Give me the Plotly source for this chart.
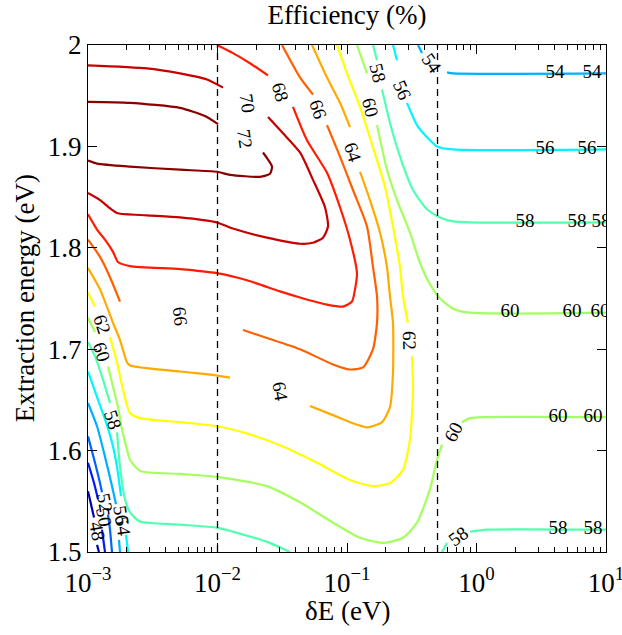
import math
import plotly.graph_objects as go

# ---------------- data (δE in eV, extraction energy in eV) ----------------
levels = [48, 50, 52, 54, 56, 58, 60, 62, 64, 66, 68, 70, 72]

c48_a_dE = [0.001, 0.001113]
c48_a_Ee = [1.560, 1.534]
c48_b_dE = [0.001174, 0.001216]
c48_b_Ee = [1.507, 1.500]

c50_a_dE = [0.001, 0.001113, 0.001195]
c50_a_Ee = [1.588, 1.568, 1.552]
c50_b_dE = [0.001282, 0.001353]
c50_b_Ee = [1.522, 1.500]

c52_a_dE = [0.001, 0.001133, 0.001238, 0.001282]
c52_a_Ee = [1.614, 1.588, 1.568, 1.559]
c52_b_dE = [0.001427, 0.001479, 0.001532]
c52_b_Ee = [1.537, 1.522, 1.500]

c54_a_dE = [0.001, 0.001174, 0.001353, 0.001532, 0.001645]
c54_a_Ee = [1.647, 1.624, 1.594, 1.565, 1.547]
c54_b_dE = [0.001735, 0.001767]
c54_b_Ee = [1.512, 1.500]
c54_c_dE = [0.3534, 0.3794]
c54_c_Ee = [2.000, 1.992]
c54_d_dE = [0.5918, 0.6585, 10.0]
c54_d_Ee = [1.973, 1.972, 1.972]

c56_a_dE = [0.001, 0.001195, 0.001353, 0.001532, 0.001675, 0.001799]
c56_a_Ee = [1.678, 1.650, 1.631, 1.608, 1.584, 1.555]
c56_b_dE = [0.001966, 0.002037]
c56_b_Ee = [1.517, 1.500]
c56_c_dE = [0.2265, 0.2432]
c56_c_Ee = [2.000, 1.985]
c56_d_dE = [0.2905, 0.3471, 0.4149, 0.4955, 0.6585, 10.0]
c56_d_Ee = [1.943, 1.921, 1.909, 1.900, 1.897, 1.897]

c58_a_dE = [0.001, 0.001133, 0.001306, 0.001479]
c58_a_Ee = [1.707, 1.693, 1.670, 1.647]
c58_b_dE = [0.001675, 0.001767, 0.001931, 0.002111, 0.002521, 0.00513, 0.00991, 0.01317, 0.02411, 0.03629]
c58_b_Ee = [1.618, 1.584, 1.552, 1.539, 1.530, 1.527, 1.524, 1.520, 1.510, 1.500]
c58_c_dE = [0.1588, 0.1705]
c58_c_Ee = [2.000, 1.985]
c58_d_dE = [0.1864, 0.2148, 0.2566, 0.3234, 0.4149, 0.5225, 0.6585, 0.8908, 10.0]
c58_d_Ee = [1.956, 1.923, 1.890, 1.857, 1.838, 1.830, 1.826, 1.825, 1.825]
c58_e_dE = [0.5416, 0.5918]
c58_e_Ee = [1.500, 1.509]
c58_f_dE = [0.8908, 1.205, 10.0]
c58_f_Ee = [1.520, 1.522, 1.522]

c60_a_dE = [0.001, 0.001133]
c60_a_Ee = [1.731, 1.717]
c60_b_dE = [0.001427, 0.00156, 0.001705, 0.00183, 0.002001, 0.002111, 0.002521, 0.00513, 0.00991,
            0.02411, 0.04336, 0.07795, 0.126, 0.1897, 0.2707, 0.3471, 0.4375, 0.4955, 0.5416]
c60_b_Ee = [1.683, 1.663, 1.643, 1.621, 1.601, 1.591, 1.580, 1.577, 1.574,
            1.565, 1.549, 1.529, 1.514, 1.509, 1.514, 1.529, 1.562, 1.591, 1.606]
c60_c_dE = [0.7727, 0.8908, 1.205, 10.0]
c60_c_Ee = [1.628, 1.632, 1.633, 1.633]
c60_d_dE = [0.1194, 0.1427]
c60_d_Ee = [2.000, 1.972]
c60_e_dE = [0.1705, 0.2036, 0.2432, 0.3066, 0.3661, 0.4375, 0.5225, 0.6585, 0.8908, 10.0]
c60_e_Ee = [1.921, 1.877, 1.847, 1.815, 1.785, 1.764, 1.750, 1.740, 1.736, 1.736]

c62_a_dE = [0.08373, 0.1, 0.126, 0.1588, 0.1966, 0.2265, 0.2566, 0.2707, 0.2958]
c62_a_Ee = [2.000, 1.972, 1.939, 1.899, 1.860, 1.821, 1.781, 1.752, 1.726]
c62_b_dE = [0.3176, 0.3234, 0.3066, 0.2707, 0.2148, 0.1588, 0.1055, 0.05866, 0.03203,
            0.01782, 0.00991, 0.00513, 0.002521, 0.002111, 0.001864, 0.001675, 0.001479]
c62_b_Ee = [1.693, 1.660, 1.611, 1.581, 1.568, 1.565, 1.571, 1.588, 1.604,
            1.616, 1.624, 1.628, 1.632, 1.637, 1.660, 1.687, 1.712]
c62_c_dE = [0.001, 0.001133]
c62_c_Ee = [1.756, 1.742]

c64_a_dE = [0.05367, 0.07008, 0.08829, 0.1055]
c64_a_Ee = [2.000, 1.968, 1.943, 1.919]
c64_b_dE = [0.126, 0.1505, 0.1798, 0.2036, 0.2148, 0.2265, 0.2265, 0.2148, 0.1864, 0.1427, 0.1055, 0.07795, 0.05181]
c64_b_Ee = [1.875, 1.847, 1.815, 1.781, 1.752, 1.726, 1.677, 1.643, 1.628, 1.623, 1.628, 1.635, 1.644]
c64_c_dE = [0.01249, 0.00991, 0.00513, 0.002111, 0.002001, 0.001767, 0.00156, 0.001238, 0.001]
c64_c_Ee = [1.672, 1.674, 1.678, 1.684, 1.687, 1.709, 1.726, 1.759, 1.780]

c66_a_dE = [0.03148, 0.04336, 0.05464]
c66_a_Ee = [2.000, 1.968, 1.951]
c66_b_dE = [0.07008, 0.08829, 0.1112, 0.1427, 0.1588, 0.1705, 0.1705, 0.1588, 0.1329, 0.1055, 0.07795, 0.04336, 0.02411, 0.01574]
c66_b_Ee = [1.921, 1.890, 1.857, 1.821, 1.781, 1.752, 1.726, 1.700, 1.682, 1.680, 1.685, 1.700, 1.711, 1.719]
c66_c_dE = [0.001, 0.001238, 0.001479, 0.001767]
c66_c_Ee = [1.808, 1.791, 1.771, 1.747]

c68_a_dE = [0.00991, 0.01317, 0.01782, 0.02455]
c68_a_Ee = [2.000, 1.992, 1.982, 1.970]
c68_b_dE = [0.03828, 0.04911, 0.07008, 0.08829, 0.1055, 0.1194, 0.1153, 0.1093, 0.09313, 0.07008, 0.04336,
            0.03039, 0.0169, 0.00991, 0.00513, 0.002111, 0.001705, 0.00156, 0.001353, 0.001174, 0.001]
c68_b_Ee = [1.939, 1.906, 1.874, 1.840, 1.808, 1.775, 1.759, 1.747, 1.742, 1.744, 1.751,
            1.757, 1.768, 1.775, 1.779, 1.782, 1.786, 1.796, 1.808, 1.818, 1.833]

c70_a_dE = [0.001, 0.002854, 0.00513, 0.0083, 0.01103]
c70_a_Ee = [1.980, 1.977, 1.972, 1.966, 1.958]
c70_b_dE = [0.02455, 0.03203, 0.04336, 0.05464, 0.06761, 0.07136, 0.06525, 0.05464, 0.04336,
            0.02411, 0.01317, 0.00991, 0.00513, 0.002854, 0.001705, 0.001479, 0.001238, 0.001]
c70_b_Ee = [1.929, 1.913, 1.894, 1.867, 1.840, 1.821, 1.810, 1.805, 1.804,
            1.810, 1.819, 1.825, 1.830, 1.832, 1.834, 1.839, 1.847, 1.854]

c72_a_dE = [0.001, 0.00211, 0.00513, 0.0080, 0.0101]
c72_a_Ee = [1.944, 1.943, 1.938, 1.930, 1.922]
c72_b_dE = [0.02245, 0.02455, 0.02636, 0.02543, 0.02129, 0.01249, 0.00991, 0.00513, 0.00211, 0.001174, 0.001]
c72_b_Ee = [1.894, 1.887, 1.880, 1.873, 1.870, 1.872, 1.875, 1.877, 1.880, 1.883, 1.886]

# inline contour labels (rotated)
lbl_text = ["72", "70", "68", "66", "64", "60", "58", "56", "54", "62", "64", "66",
            "62", "60", "58", "60", "58", "52", "50", "48", "56", "54"]
lbl_dE = [0.01631, 0.0169, 0.03039, 0.0597, 0.1112, 0.1505, 0.1735, 0.2659, 0.4532, 0.3066, 0.03039, 0.00513,
          0.001282, 0.001282, 0.00156, 0.6585, 0.7197, 0.001353, 0.001329, 0.001174, 0.001799, 0.001864]
lbl_Ee = [1.908, 1.943, 1.954, 1.936, 1.894, 1.938, 1.972, 1.956, 1.982, 1.709, 1.658, 1.732,
          1.724, 1.697, 1.631, 1.618, 1.515, 1.549, 1.535, 1.521, 1.537, 1.525]

# horizontal labels near the right edge
edge_text = ["54", "54", "56", "56", "58", "58", "58", "60", "60", "60", "60", "60", "58", "58"]
edge_dE = [4.038, 7.798, 3.381, 7.134, 2.369, 5.97, 9.15, 1.814, 5.465, 8.99, 4.259, 7.937, 4.259, 7.937]
edge_Ee = [1.972, 1.972, 1.897, 1.897, 1.825, 1.825, 1.825, 1.736, 1.736, 1.736, 1.633, 1.633, 1.522, 1.522]

guide_dE = [0.01, 0.5]
y_range = [1.5, 2.0]

x_tickvals = [1e-3, 1e-2, 1e-1, 1, 10]
x_ticktext = ["10<sup>\u22123</sup>", "10<sup>\u22122</sup>", "10<sup>\u22121</sup>", "10<sup>0</sup>", "10<sup>1</sup>"]
x_minor_tickvals = [m * d for d in (1e-3, 1e-2, 1e-1, 1.0) for m in (2, 3, 4, 5, 6, 7, 8, 9)]
y_tickvals = [1.5, 1.6, 1.7, 1.8, 1.9, 2.0]
y_ticktext = ["1.5", "1.6", "1.7", "1.8", "1.9", "2"]

# ---------------- styles ----------------
level_colors = {
    48: "#0000B4", 50: "#0018FF", 52: "#0062FF", 54: "#00B0FF", 56: "#00F6FF",
    58: "#50FFB0", 60: "#A4FF5C", 62: "#FFFF00", 64: "#FFAA00", 66: "#FF6000",
    68: "#FF1C00", 70: "#C40000", 72: "#8A0000",
}
lbl_angle = [82, 82, 74, 72, 72, 76, 76, 66, 55, 88, 80, 84,
             72, 72, 72, -62, -35, 80, 80, 80, 82, 82]

segments = {
    48: [(c48_a_dE, c48_a_Ee), (c48_b_dE, c48_b_Ee)],
    50: [(c50_a_dE, c50_a_Ee), (c50_b_dE, c50_b_Ee)],
    52: [(c52_a_dE, c52_a_Ee), (c52_b_dE, c52_b_Ee)],
    54: [(c54_a_dE, c54_a_Ee), (c54_b_dE, c54_b_Ee), (c54_c_dE, c54_c_Ee), (c54_d_dE, c54_d_Ee)],
    56: [(c56_a_dE, c56_a_Ee), (c56_b_dE, c56_b_Ee), (c56_c_dE, c56_c_Ee), (c56_d_dE, c56_d_Ee)],
    58: [(c58_a_dE, c58_a_Ee), (c58_b_dE, c58_b_Ee), (c58_c_dE, c58_c_Ee), (c58_d_dE, c58_d_Ee),
         (c58_e_dE, c58_e_Ee), (c58_f_dE, c58_f_Ee)],
    60: [(c60_a_dE, c60_a_Ee), (c60_b_dE, c60_b_Ee), (c60_c_dE, c60_c_Ee), (c60_d_dE, c60_d_Ee),
         (c60_e_dE, c60_e_Ee)],
    62: [(c62_a_dE, c62_a_Ee), (c62_b_dE, c62_b_Ee), (c62_c_dE, c62_c_Ee)],
    64: [(c64_a_dE, c64_a_Ee), (c64_b_dE, c64_b_Ee), (c64_c_dE, c64_c_Ee)],
    66: [(c66_a_dE, c66_a_Ee), (c66_b_dE, c66_b_Ee), (c66_c_dE, c66_c_Ee)],
    68: [(c68_a_dE, c68_a_Ee), (c68_b_dE, c68_b_Ee)],
    70: [(c70_a_dE, c70_a_Ee), (c70_b_dE, c70_b_Ee)],
    72: [(c72_a_dE, c72_a_Ee), (c72_b_dE, c72_b_Ee)],
}

FONT = "Liberation Serif, Times New Roman, serif"
LBL_SIZE = 19

fig = go.Figure()

for lev in levels:
    for xs, ys in segments[lev]:
        fig.add_trace(go.Scatter(
            x=xs, y=ys, mode="lines",
            line=dict(color=level_colors[lev], width=2.2, shape="spline", smoothing=0.6),
            showlegend=False, hoverinfo="skip", cliponaxis=True,
        ))

for gx in guide_dE:
    fig.add_trace(go.Scatter(
        x=[gx, gx], y=y_range, mode="lines",
        line=dict(color="black", width=1.3, dash="7px,5px"),
        showlegend=False, hoverinfo="skip",
    ))

fig.add_trace(go.Scatter(
    x=edge_dE, y=edge_Ee, mode="text", text=edge_text,
    textfont=dict(family=FONT, size=LBL_SIZE, color="black"),
    textposition="middle center", cliponaxis=True,
    showlegend=False, hoverinfo="skip",
))

annotations = []
for t, xv, yv, ang in zip(lbl_text, lbl_dE, lbl_Ee, lbl_angle):
    annotations.append(dict(
        x=math.log10(xv), y=yv, xref="x", yref="y", text=t, showarrow=False,
        textangle=ang, font=dict(family=FONT, size=LBL_SIZE, color="black"),
        xanchor="center", yanchor="middle",
    ))

annotations.append(dict(
    x=0.5, y=-0.116, xref="paper", yref="paper", text="\u03b4E (eV)", showarrow=False,
    font=dict(family=FONT, size=27, color="black"), xanchor="center", yanchor="middle",
))
annotations.append(dict(
    x=-0.122, y=0.5, xref="paper", yref="paper", text="Extraction energy (eV)", showarrow=False,
    textangle=-90, font=dict(family=FONT, size=27, color="black"), xanchor="center", yanchor="middle",
))

W, H = 622, 635
fig.update_layout(
    width=W, height=H,
    margin=dict(l=88, r=16, t=45, b=83, autoexpand=False),
    paper_bgcolor="white", plot_bgcolor="white",
    font=dict(family=FONT, color="black"),
    title=dict(text="Efficiency (%)", x=0.5, xref="paper", xanchor="center",
               y=1 - 15 / H, yref="container", yanchor="middle",
               font=dict(family=FONT, size=27, color="black")),
    annotations=annotations,
    xaxis=dict(
        type="log", range=[-3, 1], tickvals=x_tickvals, ticktext=x_ticktext,
        ticks="inside", ticklen=9, tickwidth=1, tickcolor="black",
        showline=True, linecolor="black", linewidth=1.2, mirror="ticks",
        showgrid=False, zeroline=False, automargin=False, ticklabeloverflow="allow",
        ticklabelstandoff=6,
        tickfont=dict(family=FONT, size=27, color="black"),
        minor=dict(tickmode="array", tickvals=x_minor_tickvals, ticks="inside", ticklen=5,
                   tickcolor="black", tickwidth=1, showgrid=False),
    ),
    yaxis=dict(
        range=y_range, tickvals=y_tickvals, ticktext=y_ticktext,
        ticks="inside", ticklen=9, tickwidth=1, tickcolor="black",
        showline=True, linecolor="black", linewidth=1.2, mirror="ticks",
        showgrid=False, zeroline=False, automargin=False,
        tickfont=dict(family=FONT, size=27, color="black"),
    ),
)

# let the figure fill the window exactly (no default 8 px page margin), no mode bar
fig.write_html("out.html",
               config={"displayModeBar": False},
               post_script="document.body.style.margin='0px';document.body.style.overflow='hidden';")
